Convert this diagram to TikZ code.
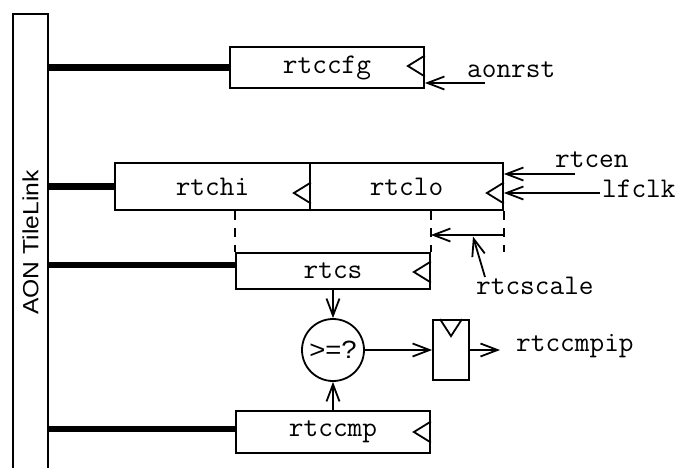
\documentclass[tikz,border=0pt]{standalone}
\usepackage{fontspec}
\setmainfont{Liberation Sans}
\setsansfont{Liberation Sans}
\usetikzlibrary{arrows.meta}
\newcommand\clocktri[2]{\draw[clk] ([shift={(0,#2-10.5)}]#1.east) -- ([shift={(-17,#2)}]#1.east) -- ([shift={(0,#2+10.5)}]#1.east);}
\begin{document}
\begin{tikzpicture}[x=1pt,y=-1pt,
  box/.style={draw, line width=1.8pt, rectangle, inner sep=0pt, minimum width=194pt, font=\fontsize{28.5}{28.5}\ttfamily},
  bus/.style={line width=6.5pt},
  arr/.style={line width=1.8pt, -{Straight Barb[length=17pt,width=13pt,line width=1.8pt]}},
  lbl/.style={font=\fontsize{28.5}{28.5}\ttfamily, inner sep=0pt, anchor=base west},
  dsh/.style={line width=1.8pt, dash pattern=on 9pt off 8pt},
  clk/.style={line width=1.8pt}
]
\useasboundingbox (0,0) rectangle (681,467);

% TileLink bus bar
\node[draw, line width=1.8pt, rotate=90, minimum width=457pt, minimum height=35.6pt, inner sep=0pt,
      font=\fontsize{22}{22}\sffamily] (bar) at (30.5,242.5) {\scalebox{1.12}[1]{AON TileLink}};

% registers
\node[box, minimum height=41pt] (cfg) at (327,67.5) {rtccfg};
\node[box, minimum width=195pt, minimum height=47pt] (hi) at (212.5,186.5) {rtchi};
\node[box, minimum width=193pt, minimum height=47pt] (lo) at (406.5,186.5) {rtclo};
\node[box, minimum height=36pt] (cs) at (333,271) {rtcs};
\node[box, minimum height=42pt] (ccmp) at (333,432) {rtccmp};

\clocktri{cfg}{-1.5}
\clocktri{hi}{6.5}
\clocktri{lo}{6.5}
\clocktri{cs}{1}
\clocktri{ccmp}{0}

% bus connections
\draw[bus] (cfg.west -| bar.south) -- (cfg.west);
\draw[bus] (hi.west -| bar.south) -- (hi.west);
\coordinate (sbus) at ([yshift=6pt]cs.west);
\draw[bus] (sbus -| bar.south) -- (sbus);
\coordinate (cbus) at ([yshift=3pt]ccmp.west);
\draw[bus] (cbus -| bar.south) -- (cbus);

% comparator and flop
\node[draw, circle, line width=1.8pt, minimum size=62pt, inner sep=0pt,
      font=\fontsize{25}{25}\sffamily] (cmp) at (333,350) {\scalebox{1.1}[1]{>=?}};
\node[draw, line width=1.8pt, minimum width=36pt, minimum height=60pt, inner sep=0pt] (ff) at (451,350) {};
\draw[clk] ([shift={(-11,0)}]ff.north) -- ([shift={(0,17)}]ff.north) -- ([shift={(11,0)}]ff.north);

% inputs
\coordinate (aon) at (485,83);
\draw[arr] (aon) -- (aon -| cfg.east);
\coordinate (en) at (575,174);
\draw[arr] (en) -- (en -| lo.east);
\coordinate (lf) at (600,193);
\draw[arr] (lf) -- (lf -| lo.east);

% scale selection
\draw[dsh] (cs.north west |- hi.south) -- (cs.north west);
\draw[dsh] (cs.north east |- hi.south) -- (cs.north east);
\draw[dsh] (lo.south east) -- (lo.south east |- cs.north);
\coordinate (sc) at (503,235);
\draw[arr] (sc) -- (sc -| cs.east);
\coordinate (scl) at (485,277);
\coordinate (sct) at (473,236.5);
\draw[arr] (scl) -- (sct);

% compare path
\draw[arr] (cs.south) -- (cs.south |- cmp.north);
\draw[arr] (ccmp.north) -- (ccmp.north |- cmp.south);
\draw[arr] (cmp) -- (ff);
\coordinate (out) at (500,350);
\draw[arr] (ff) -- (out);

% labels
\node[lbl] (laon) at (467,77) {aonrst};
\node[lbl] (len) at (555,167) {rtcen};
\node[lbl] (llf) at (602,197) {lfclk};
\node[lbl] (lscale) at (476,294) {rtcscale};
\node[lbl] (lip) at (516,351) {rtccmpip};
\end{tikzpicture}
\end{document}
